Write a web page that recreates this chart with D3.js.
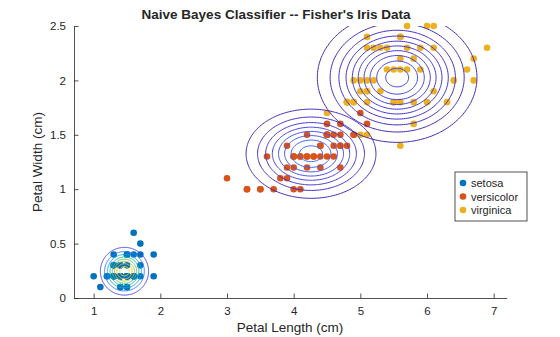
<!DOCTYPE html>
<html><head><meta charset="utf-8">
<script src="https://cdn.jsdelivr.net/npm/d3@7/dist/d3.min.js"></script>
<style>
body{margin:0;background:#fff;}
text{font-family:"Liberation Sans",Arial,Helvetica,sans-serif;fill:#262626;}
</style></head>
<body><svg id="chart" width="560" height="337"></svg>
<script>
// ---- data (Fisher's iris: petal length, petal width) ----
const classes = ["setosa", "versicolor", "virginica"];
const setosaLength = [1.4,1.4,1.3,1.5,1.4,1.7,1.4,1.5,1.4,1.5,1.5,1.6,1.4,1.1,1.2,1.5,1.3,1.4,1.7,1.5,1.7,1.5,1.0,1.7,1.9,1.6,1.6,1.5,1.4,1.6,1.6,1.5,1.5,1.4,1.5,1.2,1.3,1.4,1.3,1.5,1.3,1.3,1.3,1.6,1.9,1.4,1.6,1.4,1.5,1.4];
const setosaWidth  = [0.2,0.2,0.2,0.2,0.2,0.4,0.3,0.2,0.2,0.1,0.2,0.2,0.1,0.1,0.2,0.4,0.4,0.3,0.3,0.3,0.2,0.4,0.2,0.5,0.2,0.2,0.4,0.2,0.2,0.2,0.2,0.4,0.1,0.2,0.2,0.2,0.2,0.1,0.2,0.2,0.3,0.3,0.2,0.6,0.4,0.3,0.2,0.2,0.2,0.2];
const versicolorLength = [4.7,4.5,4.9,4.0,4.6,4.5,4.7,3.3,4.6,3.9,3.5,4.2,4.0,4.7,3.6,4.4,4.5,4.1,4.5,3.9,4.8,4.0,4.9,4.7,4.3,4.4,4.8,5.0,4.5,3.5,3.8,3.7,3.9,5.1,4.5,4.5,4.7,4.4,4.1,4.0,4.4,4.6,4.0,3.3,4.2,4.2,4.2,4.3,3.0,4.1];
const versicolorWidth  = [1.4,1.5,1.5,1.3,1.5,1.3,1.6,1.0,1.3,1.4,1.0,1.5,1.0,1.4,1.3,1.4,1.5,1.0,1.5,1.1,1.8,1.3,1.5,1.2,1.3,1.4,1.4,1.7,1.5,1.0,1.1,1.0,1.2,1.6,1.5,1.6,1.5,1.3,1.3,1.3,1.2,1.4,1.2,1.0,1.3,1.2,1.3,1.3,1.1,1.3];
const virginicaLength = [6.0,5.1,5.9,5.6,5.8,6.6,4.5,6.3,5.8,6.1,5.1,5.3,5.5,5.0,5.1,5.3,5.5,6.7,6.9,5.0,5.7,4.9,6.7,4.9,5.7,6.0,4.8,4.9,5.6,5.8,6.1,6.4,5.6,5.1,5.6,6.1,5.6,5.5,4.8,5.4,5.6,5.1,5.1,5.9,5.7,5.2,5.0,5.2,5.4,5.1];
const virginicaWidth  = [2.5,1.9,2.1,1.8,2.2,2.1,1.7,1.8,1.8,2.5,2.0,1.9,2.1,2.0,2.4,2.3,1.8,2.2,2.3,1.5,2.3,2.0,2.0,1.8,2.1,1.8,1.8,1.8,2.1,1.6,1.9,2.0,2.2,1.5,1.4,2.3,2.4,1.8,1.8,2.1,2.4,2.3,1.9,2.3,2.5,2.3,1.9,2.0,2.3,1.8];
const xTicks = [1,2,3,4,5,6,7];
const yTicks = [0,0.5,1,1.5,2,2.5];
const titleText = "Naive Bayes Classifier -- Fisher's Iris Data";
const xLabel = "Petal Length (cm)";
const yLabel = "Petal Width (cm)";

// ---- styles ----
const classColors = ["#0072BD", "#D95319", "#EDB120"];
const parulaStops = ["#3E26A8","#4530D7","#4753F3","#3B75FE","#2C91E9","#1EA6D9","#0CB4C3","#21BDAA","#3FC391","#6AC66A","#99C845","#C7BF31","#EFBA3A","#FCCD30","#F4E620","#F9FB14"];
const parula = d3.interpolateRgbBasis(parulaStops);

const lengths = [setosaLength, versicolorLength, virginicaLength];
const widths = [setosaWidth, versicolorWidth, virginicaWidth];

const svg = d3.select("#chart");
const x = d3.scaleLinear().domain([0.705, 7.195]).range([74, 506.7]);
const y = d3.scaleLinear().domain([0, 2.5]).range([298, 26]);

svg.append("defs").append("clipPath").attr("id","clip")
  .append("rect").attr("x",74).attr("y",26).attr("width",432.7).attr("height",272);

// points
classes.forEach((c, k) => {
  svg.append("g").selectAll("circle")
    .data(d3.range(lengths[k].length))
    .join("circle")
    .attr("cx", i => x(lengths[k][i]))
    .attr("cy", i => y(widths[k][i]))
    .attr("r", 3.3)
    .attr("fill", classColors[k]);
});

// naive Bayes gaussian contours
const params = classes.map((c, k) => {
  const mx = d3.mean(lengths[k]), my = d3.mean(widths[k]);
  const sx = d3.deviation(lengths[k]), sy = d3.deviation(widths[k]);
  return {mx, my, sx, sy, peak: 1/(2*Math.PI*sx*sy)};
});
const cmax = d3.max(params, p => p.peak);
const color = d3.scaleSequential(parula).domain([0, cmax]);
const n = 160;
const cg = svg.append("g").attr("clip-path","url(#clip)");
params.forEach(p => {
  const x0 = p.mx - 4*p.sx, x1 = p.mx + 4*p.sx;
  const y0 = p.my - 4*p.sy, y1 = p.my + 4*p.sy;
  const dx = (x1-x0)/(n-1), dy = (y1-y0)/(n-1);
  const vals = new Array(n*n);
  for (let j=0;j<n;j++) for (let i=0;i<n;i++){
    const xv = x0 + i*dx, yv = y0 + j*dy;
    const zx = (xv-p.mx)/p.sx, zy = (yv-p.my)/p.sy;
    vals[j*n+i] = p.peak*Math.exp(-0.5*(zx*zx+zy*zy));
  }
  const levels = d3.ticks(0, p.peak, 10).filter(v => v > 0 && v < p.peak);
  const contours = d3.contours().size([n,n]).thresholds(levels)(vals);
  const proj = d3.geoTransform({point(gx, gy){
    this.stream.point(x(x0 + (gx-0.5)*dx), y(y0 + (gy-0.5)*dy));
  }});
  const path = d3.geoPath(proj);
  cg.append("g").selectAll("path").data(contours).join("path")
    .attr("d", path).attr("fill","none")
    .attr("stroke", d => color(d.value)).attr("stroke-width", 1);
});

// axes
const xAxis = svg.append("g").attr("transform","translate(0,298)")
  .call(d3.axisBottom(x).tickValues(xTicks).tickFormat(d=>String(d)).tickSizeInner(-4.5).tickSizeOuter(0).tickPadding(9));
const yAxis = svg.append("g").attr("transform","translate(74,0)")
  .call(d3.axisLeft(y).tickValues(yTicks).tickFormat(d=>String(d)).tickSizeInner(-4.5).tickSizeOuter(0).tickPadding(8));
[xAxis, yAxis].forEach(a => {
  a.selectAll("path,line").attr("stroke","#262626").attr("stroke-width",0.8);
  a.selectAll("text").attr("font-size",11.5).attr("fill","#262626").style("font-family",'"Liberation Sans",Arial,sans-serif');
});

// labels
svg.append("text").attr("x",276).attr("y",19).attr("text-anchor","middle")
  .attr("font-size",13.5).attr("font-weight","bold").attr("fill","#000").text(titleText);
svg.append("text").attr("x",290).attr("y",332).attr("text-anchor","middle")
  .attr("font-size",13.5).text(xLabel);
svg.append("text").attr("transform","translate(42,162) rotate(-90)").attr("text-anchor","middle")
  .attr("font-size",13.5).text(yLabel);

// legend
const lg = svg.append("g").attr("transform","translate(455,172)");
lg.append("rect").attr("x",0).attr("y",0).attr("width",72).attr("height",49)
  .attr("fill","#fff").attr("stroke","#262626").attr("stroke-width",0.8);
classes.forEach((c,k) => {
  lg.append("circle").attr("cx",8).attr("cy",11+k*13.5).attr("r",3.3).attr("fill",classColors[k]);
  lg.append("text").attr("x",16).attr("y",15+k*13.5).attr("font-size",11).attr("fill","#000").text(c);
});
</script></body></html>
